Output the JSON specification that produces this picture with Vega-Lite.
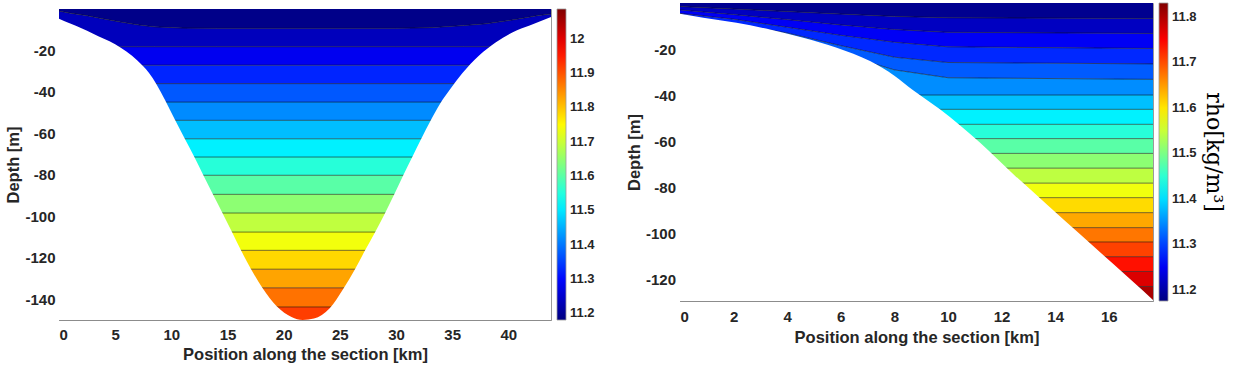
{
  "$schema": "https://vega.github.io/schema/vega-lite/v6.json",
  "background": "white",
  "padding": {"left": 5, "top": 2, "right": 0, "bottom": 0},
  "config": {
    "font": "Liberation Sans",
    "view": {"stroke": "#9a9a9a", "strokeWidth": 1},
    "axis": {
      "labelFont": "Liberation Sans", "labelFontWeight": "bold", "labelFontSize": 15, "labelColor": "#262626",
      "titleFont": "Liberation Sans", "titleFontWeight": "bold", "titleFontSize": 16.5, "titleColor": "#262626",
      "domainColor": "#8c8c8c", "tickColor": "#8c8c8c", "grid": false, "zindex": 1, "tickSize": -4
    },
    "legend": {
      "labelFont": "Liberation Sans", "labelFontWeight": "bold", "labelFontSize": 13, "labelColor": "#262626",
      "padding": 0
    }
  },
  "datasets": {
    "Lb": [
      {"band": 0, "rho": 11.188, "x": 0, "top": 0, "bot": -1.0},
      {"band": 0, "rho": 11.188, "x": 1, "top": 0, "bot": -2.0},
      {"band": 0, "rho": 11.188, "x": 2.5, "top": 0, "bot": -3.2},
      {"band": 0, "rho": 11.188, "x": 4, "top": 0, "bot": -4.8},
      {"band": 0, "rho": 11.188, "x": 5.5, "top": 0, "bot": -6.3},
      {"band": 0, "rho": 11.188, "x": 7, "top": 0, "bot": -7.6},
      {"band": 0, "rho": 11.188, "x": 8.5, "top": 0, "bot": -8.6},
      {"band": 0, "rho": 11.188, "x": 11, "top": 0, "bot": -9.2},
      {"band": 0, "rho": 11.188, "x": 14, "top": 0, "bot": -9.3},
      {"band": 0, "rho": 11.188, "x": 30, "top": 0, "bot": -9.3},
      {"band": 0, "rho": 11.188, "x": 33, "top": 0, "bot": -9.0},
      {"band": 0, "rho": 11.188, "x": 36, "top": 0, "bot": -8.0},
      {"band": 0, "rho": 11.188, "x": 38, "top": 0, "bot": -7.1},
      {"band": 0, "rho": 11.188, "x": 40, "top": 0, "bot": -5.6},
      {"band": 0, "rho": 11.188, "x": 41, "top": 0, "bot": -4.7},
      {"band": 0, "rho": 11.188, "x": 42.7, "top": 0, "bot": -3.1},
      {"band": 0, "rho": 11.188, "x": 43.8, "top": 0, "bot": -2.4},
      {"band": 1, "rho": 11.234, "x": 0, "top": -1.0, "bot": -18.2},
      {"band": 1, "rho": 11.234, "x": 1, "top": -2.0, "bot": -18.2},
      {"band": 1, "rho": 11.234, "x": 2.5, "top": -3.2, "bot": -18.2},
      {"band": 1, "rho": 11.234, "x": 4, "top": -4.8, "bot": -18.2},
      {"band": 1, "rho": 11.234, "x": 5.5, "top": -6.3, "bot": -18.2},
      {"band": 1, "rho": 11.234, "x": 7, "top": -7.6, "bot": -18.2},
      {"band": 1, "rho": 11.234, "x": 8.5, "top": -8.6, "bot": -18.2},
      {"band": 1, "rho": 11.234, "x": 11, "top": -9.2, "bot": -18.2},
      {"band": 1, "rho": 11.234, "x": 14, "top": -9.3, "bot": -18.2},
      {"band": 1, "rho": 11.234, "x": 30, "top": -9.3, "bot": -18.2},
      {"band": 1, "rho": 11.234, "x": 33, "top": -9.0, "bot": -18.2},
      {"band": 1, "rho": 11.234, "x": 36, "top": -8.0, "bot": -18.2},
      {"band": 1, "rho": 11.234, "x": 38, "top": -7.1, "bot": -18.2},
      {"band": 1, "rho": 11.234, "x": 40, "top": -5.6, "bot": -18.2},
      {"band": 1, "rho": 11.234, "x": 41, "top": -4.7, "bot": -18.2},
      {"band": 1, "rho": 11.234, "x": 42.7, "top": -3.1, "bot": -18.2},
      {"band": 1, "rho": 11.234, "x": 43.8, "top": -2.4, "bot": -18.2},
      {"band": 2, "rho": 11.280, "x": 0, "top": -18.2, "bot": -27.1},
      {"band": 2, "rho": 11.280, "x": 43.8, "top": -18.2, "bot": -27.1},
      {"band": 3, "rho": 11.325, "x": 0, "top": -27.1, "bot": -36.0},
      {"band": 3, "rho": 11.325, "x": 43.8, "top": -27.1, "bot": -36.0},
      {"band": 4, "rho": 11.371, "x": 0, "top": -36.0, "bot": -44.9},
      {"band": 4, "rho": 11.371, "x": 43.8, "top": -36.0, "bot": -44.9},
      {"band": 5, "rho": 11.417, "x": 0, "top": -44.9, "bot": -53.7},
      {"band": 5, "rho": 11.417, "x": 43.8, "top": -44.9, "bot": -53.7},
      {"band": 6, "rho": 11.462, "x": 0, "top": -53.7, "bot": -62.6},
      {"band": 6, "rho": 11.462, "x": 43.8, "top": -53.7, "bot": -62.6},
      {"band": 7, "rho": 11.508, "x": 0, "top": -62.6, "bot": -71.4},
      {"band": 7, "rho": 11.508, "x": 43.8, "top": -62.6, "bot": -71.4},
      {"band": 8, "rho": 11.554, "x": 0, "top": -71.4, "bot": -80.2},
      {"band": 8, "rho": 11.554, "x": 43.8, "top": -71.4, "bot": -80.2},
      {"band": 9, "rho": 11.599, "x": 0, "top": -80.2, "bot": -89.4},
      {"band": 9, "rho": 11.599, "x": 43.8, "top": -80.2, "bot": -89.4},
      {"band": 10, "rho": 11.645, "x": 0, "top": -89.4, "bot": -98.4},
      {"band": 10, "rho": 11.645, "x": 43.8, "top": -89.4, "bot": -98.4},
      {"band": 11, "rho": 11.691, "x": 0, "top": -98.4, "bot": -107.6},
      {"band": 11, "rho": 11.691, "x": 43.8, "top": -98.4, "bot": -107.6},
      {"band": 12, "rho": 11.736, "x": 0, "top": -107.6, "bot": -116.4},
      {"band": 12, "rho": 11.736, "x": 43.8, "top": -107.6, "bot": -116.4},
      {"band": 13, "rho": 11.782, "x": 0, "top": -116.4, "bot": -125.5},
      {"band": 13, "rho": 11.782, "x": 43.8, "top": -116.4, "bot": -125.5},
      {"band": 14, "rho": 11.828, "x": 0, "top": -125.5, "bot": -134.5},
      {"band": 14, "rho": 11.828, "x": 43.8, "top": -125.5, "bot": -134.5},
      {"band": 15, "rho": 11.873, "x": 0, "top": -134.5, "bot": -143.7},
      {"band": 15, "rho": 11.873, "x": 43.8, "top": -134.5, "bot": -143.7},
      {"band": 16, "rho": 11.919, "x": 0, "top": -143.7, "bot": -150},
      {"band": 16, "rho": 11.919, "x": 43.8, "top": -143.7, "bot": -150}
    ],
    "Ls": [
      {"x": 0, "d": -4.7}, {"x": 1, "d": -7.0}, {"x": 2, "d": -9.3}, {"x": 3, "d": -11.8},
      {"x": 4, "d": -14.4}, {"x": 5, "d": -17.0}, {"x": 6, "d": -20.5}, {"x": 7, "d": -25.0},
      {"x": 8, "d": -30.8}, {"x": 8.7, "d": -36.5}, {"x": 9.45, "d": -44.0}, {"x": 10.3, "d": -53.2},
      {"x": 11.2, "d": -62.6}, {"x": 12.05, "d": -71.4}, {"x": 12.85, "d": -80.2}, {"x": 13.7, "d": -89.4},
      {"x": 14.55, "d": -98.4}, {"x": 15.4, "d": -107.6}, {"x": 16.2, "d": -116.4}, {"x": 17.1, "d": -125.5},
      {"x": 18.1, "d": -134.5}, {"x": 19.4, "d": -143.5}, {"x": 20.7, "d": -148.5}, {"x": 21.7, "d": -150.0},
      {"x": 22.7, "d": -149.3}, {"x": 24.1, "d": -144.3}, {"x": 25.3, "d": -135.0}, {"x": 26.35, "d": -125.5},
      {"x": 27.25, "d": -116.4}, {"x": 28.15, "d": -107.6}, {"x": 29.0, "d": -98.7}, {"x": 29.85, "d": -89.4},
      {"x": 30.65, "d": -80.2}, {"x": 31.45, "d": -71.4}, {"x": 32.25, "d": -62.6}, {"x": 33.1, "d": -53.7},
      {"x": 33.95, "d": -45.5}, {"x": 34.85, "d": -38.5}, {"x": 35.9, "d": -31.0}, {"x": 37.4, "d": -22.4},
      {"x": 38.9, "d": -16.0}, {"x": 40.4, "d": -11.2}, {"x": 41.9, "d": -8.0}, {"x": 43.8, "d": -3.9}
    ],
    "Rb": [
      {"band": 0, "rho": 11.186, "x": 0, "top": 0, "bot": -1.5},
      {"band": 0, "rho": 11.186, "x": 2, "top": 0, "bot": -2.6},
      {"band": 0, "rho": 11.186, "x": 4, "top": 0, "bot": -3.7},
      {"band": 0, "rho": 11.186, "x": 6, "top": 0, "bot": -4.8},
      {"band": 0, "rho": 11.186, "x": 8, "top": 0, "bot": -5.8},
      {"band": 0, "rho": 11.186, "x": 10, "top": 0, "bot": -6.4},
      {"band": 0, "rho": 11.186, "x": 17.65, "top": 0, "bot": -6.7},
      {"band": 1, "rho": 11.218, "x": 0, "top": -1.5, "bot": -3.0},
      {"band": 1, "rho": 11.218, "x": 2, "top": -2.6, "bot": -5.0},
      {"band": 1, "rho": 11.218, "x": 4, "top": -3.7, "bot": -7.2},
      {"band": 1, "rho": 11.218, "x": 6, "top": -4.8, "bot": -9.5},
      {"band": 1, "rho": 11.218, "x": 8, "top": -5.8, "bot": -11.5},
      {"band": 1, "rho": 11.218, "x": 10, "top": -6.4, "bot": -12.7},
      {"band": 1, "rho": 11.218, "x": 17.65, "top": -6.7, "bot": -13.2},
      {"band": 2, "rho": 11.251, "x": 0, "top": -3.0, "bot": -4.5},
      {"band": 2, "rho": 11.251, "x": 2, "top": -5.0, "bot": -7.0},
      {"band": 2, "rho": 11.251, "x": 4, "top": -7.2, "bot": -10.5},
      {"band": 2, "rho": 11.251, "x": 6, "top": -9.5, "bot": -14.0},
      {"band": 2, "rho": 11.251, "x": 8, "top": -11.5, "bot": -17.0},
      {"band": 2, "rho": 11.251, "x": 10, "top": -12.7, "bot": -19.0},
      {"band": 2, "rho": 11.251, "x": 17.65, "top": -13.2, "bot": -19.7},
      {"band": 3, "rho": 11.283, "x": 0, "top": -4.5, "bot": -6.0},
      {"band": 3, "rho": 11.283, "x": 2, "top": -7.0, "bot": -9.0},
      {"band": 3, "rho": 11.283, "x": 4, "top": -10.5, "bot": -13.0},
      {"band": 3, "rho": 11.283, "x": 6, "top": -14.0, "bot": -18.5},
      {"band": 3, "rho": 11.283, "x": 8, "top": -17.0, "bot": -23.5},
      {"band": 3, "rho": 11.283, "x": 10, "top": -19.0, "bot": -25.8},
      {"band": 3, "rho": 11.283, "x": 17.65, "top": -19.7, "bot": -26.4},
      {"band": 4, "rho": 11.316, "x": 0, "top": -6.0, "bot": -7.0},
      {"band": 4, "rho": 11.316, "x": 2, "top": -9.0, "bot": -11.0},
      {"band": 4, "rho": 11.316, "x": 4, "top": -13.0, "bot": -16.0},
      {"band": 4, "rho": 11.316, "x": 6, "top": -18.5, "bot": -22.0},
      {"band": 4, "rho": 11.316, "x": 8, "top": -23.5, "bot": -29.0},
      {"band": 4, "rho": 11.316, "x": 10, "top": -25.8, "bot": -32.4},
      {"band": 4, "rho": 11.316, "x": 17.65, "top": -26.4, "bot": -33.1},
      {"band": 5, "rho": 11.348, "x": 0, "top": -7.0, "bot": -39.9},
      {"band": 5, "rho": 11.348, "x": 2, "top": -11.0, "bot": -39.9},
      {"band": 5, "rho": 11.348, "x": 4, "top": -16.0, "bot": -39.9},
      {"band": 5, "rho": 11.348, "x": 6, "top": -22.0, "bot": -39.9},
      {"band": 5, "rho": 11.348, "x": 8, "top": -29.0, "bot": -39.9},
      {"band": 5, "rho": 11.348, "x": 10, "top": -32.4, "bot": -39.9},
      {"band": 5, "rho": 11.348, "x": 17.65, "top": -33.1, "bot": -39.9},
      {"band": 6, "rho": 11.381, "x": 0, "top": -39.9, "bot": -46.1},
      {"band": 6, "rho": 11.381, "x": 17.65, "top": -39.9, "bot": -46.1},
      {"band": 7, "rho": 11.413, "x": 0, "top": -46.1, "bot": -52.6},
      {"band": 7, "rho": 11.413, "x": 17.65, "top": -46.1, "bot": -52.6},
      {"band": 8, "rho": 11.446, "x": 0, "top": -52.6, "bot": -58.8},
      {"band": 8, "rho": 11.446, "x": 17.65, "top": -52.6, "bot": -58.8},
      {"band": 9, "rho": 11.478, "x": 0, "top": -58.8, "bot": -65.2},
      {"band": 9, "rho": 11.478, "x": 17.65, "top": -58.8, "bot": -65.2},
      {"band": 10, "rho": 11.511, "x": 0, "top": -65.2, "bot": -71.6},
      {"band": 10, "rho": 11.511, "x": 17.65, "top": -65.2, "bot": -71.6},
      {"band": 11, "rho": 11.543, "x": 0, "top": -71.6, "bot": -78.1},
      {"band": 11, "rho": 11.543, "x": 17.65, "top": -71.6, "bot": -78.1},
      {"band": 12, "rho": 11.576, "x": 0, "top": -78.1, "bot": -84.4},
      {"band": 12, "rho": 11.576, "x": 17.65, "top": -78.1, "bot": -84.4},
      {"band": 13, "rho": 11.608, "x": 0, "top": -84.4, "bot": -90.9},
      {"band": 13, "rho": 11.608, "x": 17.65, "top": -84.4, "bot": -90.9},
      {"band": 14, "rho": 11.641, "x": 0, "top": -90.9, "bot": -97.4},
      {"band": 14, "rho": 11.641, "x": 17.65, "top": -90.9, "bot": -97.4},
      {"band": 15, "rho": 11.673, "x": 0, "top": -97.4, "bot": -103.6},
      {"band": 15, "rho": 11.673, "x": 17.65, "top": -97.4, "bot": -103.6},
      {"band": 16, "rho": 11.706, "x": 0, "top": -103.6, "bot": -110.0},
      {"band": 16, "rho": 11.706, "x": 17.65, "top": -103.6, "bot": -110.0},
      {"band": 17, "rho": 11.738, "x": 0, "top": -110.0, "bot": -116.4},
      {"band": 17, "rho": 11.738, "x": 17.65, "top": -110.0, "bot": -116.4},
      {"band": 18, "rho": 11.771, "x": 0, "top": -116.4, "bot": -122.9},
      {"band": 18, "rho": 11.771, "x": 17.65, "top": -116.4, "bot": -122.9},
      {"band": 19, "rho": 11.803, "x": 0, "top": -122.9, "bot": -129.2},
      {"band": 19, "rho": 11.803, "x": 17.65, "top": -122.9, "bot": -129.2}
    ],
    "Rs": [
      {"x": 0, "d": -4.7}, {"x": 0.87, "d": -6.4}, {"x": 2.11, "d": -8.6}, {"x": 3.36, "d": -11.5},
      {"x": 4.6, "d": -15.1}, {"x": 5.85, "d": -19.4}, {"x": 7.09, "d": -25.2}, {"x": 8.0, "d": -31.5},
      {"x": 8.7, "d": -37.8}, {"x": 9.7, "d": -46.1}, {"x": 11.19, "d": -60.5}, {"x": 12.44, "d": -74.2},
      {"x": 13.68, "d": -87.2}, {"x": 14.92, "d": -100.2}, {"x": 16.17, "d": -113.2}, {"x": 17.29, "d": -124.9},
      {"x": 17.65, "d": -128.8}
    ]
  },
  "hconcat": [
    {
      "spacing": 0,
      "resolve": {
        "scale": {"color": "independent", "x": "independent", "y": "independent"},
        "legend": {"color": "independent"}
      },
      "vconcat": [
        {
          "width": 10,
          "height": 4.5,
          "view": {"stroke": null},
          "data": {"values": []},
          "mark": {"type": "text"}
        },
        {
          "width": 492,
          "height": 311,
          "layer": [
            {
              "data": {"name": "Lb"},
              "mark": {"type": "area", "interpolate": "linear"},
              "encoding": {
                "x": {"field": "x", "type": "quantitative", "title": "Position along the section [km]",
                      "scale": {"domain": [0, 43.8], "nice": false, "zero": false},
                      "axis": {"values": [0, 5, 10, 15, 20, 25, 30, 35, 40], "labelPadding": 11, "titlePadding": 4, "labelAngle": 0}},
                "y": {"field": "top", "type": "quantitative", "stack": null, "title": "Depth [m]",
                      "scale": {"domain": [-150, 0], "nice": false, "zero": false},
                      "axis": {"values": [-140, -120, -100, -80, -60, -40, -20], "labelPadding": 8, "titlePadding": 3, "labelExpr": "'' + datum.value"}},
                "y2": {"field": "bot"},
                "color": {"field": "rho", "type": "quantitative",
                          "scale": {"domain": [11.18, 11.293375, 11.40675, 11.520125, 11.6335, 11.746875, 11.86025, 11.973625, 12.087],
                                    "range": ["#000080", "#0000ff", "#0080ff", "#00ffff", "#80ff80", "#ffff00", "#ff8000", "#ff0000", "#800000"],
                                    "interpolate": "rgb"},
                          "legend": {"title": null, "orient": "right", "direction": "vertical", "offset": 4,
                                     "values": [11.2, 11.3, 11.4, 11.5, 11.6, 11.7, 11.8, 11.9, 12], "format": ".3~g",
                                     "gradientLength": 311, "gradientThickness": 9, "labelOffset": 4,
                                     "gradientStrokeColor": "#999999", "gradientStrokeWidth": 0.8}},
                "detail": {"field": "band", "type": "nominal"}
              }
            },
            {
              "data": {"name": "Lb"},
              "transform": [{"filter": "datum.band < 16"}],
              "mark": {"type": "line", "color": "#111111", "strokeWidth": 0.7, "opacity": 0.8},
              "encoding": {
                "x": {"field": "x", "type": "quantitative"},
                "y": {"field": "bot", "type": "quantitative"},
                "detail": {"field": "band", "type": "nominal"}
              }
            },
            {
              "data": {"name": "Ls"},
              "mark": {"type": "area", "color": "white", "interpolate": "monotone"},
              "encoding": {
                "x": {"field": "x", "type": "quantitative"},
                "y": {"field": "d", "type": "quantitative"},
                "y2": {"datum": -150}
              }
            }
          ]
        }
      ]
    },
    {
      "width": 473,
      "height": 298,
      "layer": [
        {
          "data": {"name": "Rb"},
          "mark": {"type": "area", "interpolate": "linear"},
          "encoding": {
            "x": {"field": "x", "type": "quantitative", "title": "Position along the section [km]",
                  "scale": {"domain": [0, 17.65], "nice": false, "zero": false},
                  "axis": {"values": [0, 2, 4, 6, 8, 10, 12, 14, 16], "labelPadding": 12, "titlePadding": 5, "labelAngle": 0}},
            "y": {"field": "top", "type": "quantitative", "stack": null, "title": "Depth [m]",
                  "scale": {"domain": [-129.2, 0], "nice": false, "zero": false},
                  "axis": {"values": [-120, -100, -80, -60, -40, -20], "labelPadding": 8.5, "titlePadding": 3, "labelExpr": "'' + datum.value"}},
            "y2": {"field": "bot"},
            "color": {"field": "rho", "type": "quantitative",
                      "scale": {"domain": [11.176, 11.25775, 11.3395, 11.42125, 11.503, 11.58475, 11.6665, 11.74825, 11.83],
                                "range": ["#000080", "#0000ff", "#0080ff", "#00ffff", "#80ff80", "#ffff00", "#ff8000", "#ff0000", "#800000"],
                                "interpolate": "rgb"},
                      "legend": {"title": "rho[kg/m³]", "orient": "right", "direction": "vertical", "offset": 4,
                                 "values": [11.2, 11.3, 11.4, 11.5, 11.6, 11.7, 11.8], "format": ".3~g",
                                 "gradientLength": 298, "gradientThickness": 9, "labelOffset": 4,
                                 "gradientStrokeColor": "#999999", "gradientStrokeWidth": 0.8,
                                 "titleOrient": "right", "titleAngle": 90, "titleFont": "DejaVu Serif", "titleFontSize": 22,
                                 "titleFontWeight": "normal", "titleColor": "#000000", "titlePadding": 5, "titleAnchor": "middle"}},
            "detail": {"field": "band", "type": "nominal"}
          }
        },
        {
          "data": {"name": "Rb"},
          "transform": [{"filter": "datum.band < 19"}],
          "mark": {"type": "line", "color": "#111111", "strokeWidth": 0.7, "opacity": 0.8},
          "encoding": {
            "x": {"field": "x", "type": "quantitative"},
            "y": {"field": "bot", "type": "quantitative"},
            "detail": {"field": "band", "type": "nominal"}
          }
        },
        {
          "data": {"name": "Rs"},
          "mark": {"type": "area", "color": "white", "interpolate": "monotone"},
          "encoding": {
            "x": {"field": "x", "type": "quantitative"},
            "y": {"field": "d", "type": "quantitative"},
            "y2": {"datum": -129.2}
          }
        }
      ]
    }
  ],
  "spacing": 29,
  "resolve": {
    "scale": {"color": "independent", "x": "independent", "y": "independent"},
    "legend": {"color": "independent"}
  }
}
